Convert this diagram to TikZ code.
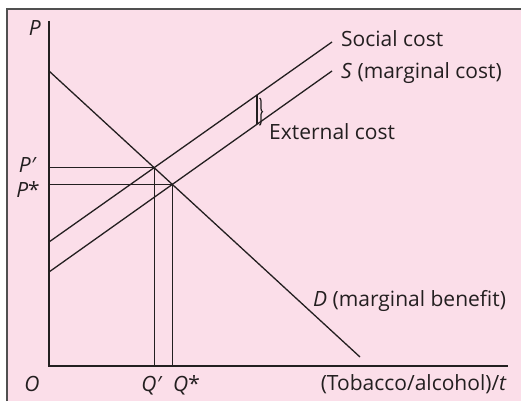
\documentclass[tikz,border=0pt]{standalone}
\usepackage{fontspec}
\setmainfont{Open Sans}
\usetikzlibrary{calc,positioning,decorations.pathreplacing}
\definecolor{panelpink}{RGB}{251,222,233}
\definecolor{framegray}{RGB}{80,80,80}
\definecolor{inkcolor}{RGB}{35,31,32}
\tikzset{
  axisln/.style={line width=1.4pt, inkcolor},
  curveln/.style={line width=1.3pt, inkcolor},
  projln/.style={line width=1.2pt, inkcolor},
  lbl/.style={font=\fontsize{21}{24}\selectfont, text=inkcolor, inner sep=0pt},
}

\begin{document}
\begin{tikzpicture}[x=1pt,y=-1pt]
    \useasboundingbox (0,0) rectangle (521,401);
    \fill[panelpink] (7,9) rectangle (521,401);
    \draw[framegray, line width=1.2pt] (7,401) -- (7,9) -- (521,9);
    % axes
    \coordinate (O) at (49,366);
    \coordinate (ytop) at (49,21);
    \coordinate (xend) at (508,366);
    \draw[axisln] (ytop) -- (O) -- (xend);
    % demand and the two cost lines
    \coordinate (d0) at (49,71);
    \coordinate (d1) at (360,357);
    \coordinate (sc0) at (49,242);
    \coordinate (sc1) at (332,42);
    \coordinate (s0) at (49,272);
    \coordinate (s1) at (332,71);
    \draw[curveln] (d0) -- (d1);
    \draw[curveln] (sc0) -- (sc1);
    \draw[curveln] (s0) -- (s1);
    \coordinate (Ip) at (intersection of d0--d1 and sc0--sc1);
    \coordinate (Is) at (intersection of d0--d1 and s0--s1);
    \draw[projln] (Ip -| O) -- (Ip) -- (Ip |- O);
    \draw[projln] (Is -| O) -- (Is) -- (Is |- O);
    % external cost gap
    \coordinate (exa) at ($(sc0)!0.735!(sc1)$);
    \coordinate (exb) at ($(s0)!0.735!(s1)$);
    \draw[projln] (exa) -- (exb);
    \draw[projln, decorate, decoration={brace, amplitude=3pt}]
      ($(exa)+(2.5,3)$) -- ($(exb)+(2.5,1)$);
    % labels
    \node[lbl, anchor=base east] (plbl) at (41,36) {\textit{P}};
    \node[lbl, anchor=base east] (pplbl) at (37,172) {\textit{P′}};
    \node[lbl, anchor=base east] (pslbl) at (40,197) {\textit{P}*};
    \node[lbl, anchor=base] (olbl) at (32,391) {\textit{O}};
    \node[lbl, anchor=base] (qplbl) at (152,391) {\textit{Q′}};
    \node[lbl, anchor=base west] (qslbl) at (173,391) {\textit{Q}*};
    \node[lbl, anchor=base east] (xlbl) at (507,390) {(Tobacco/alcohol)/\textit{t}};
    \node[lbl, anchor=base west] (sclbl) at (341,47) {Social cost};
    \node[lbl, anchor=base west] (slbl) at (341,79) {\textit{S} (marginal cost)};
    \node[lbl, anchor=base west] (exlbl) at (269,139) {External cost};
    \node[lbl, anchor=base west] (dlbl) at (313,306) {\textit{D} (marginal benefit)};
\end{tikzpicture}
\end{document}
